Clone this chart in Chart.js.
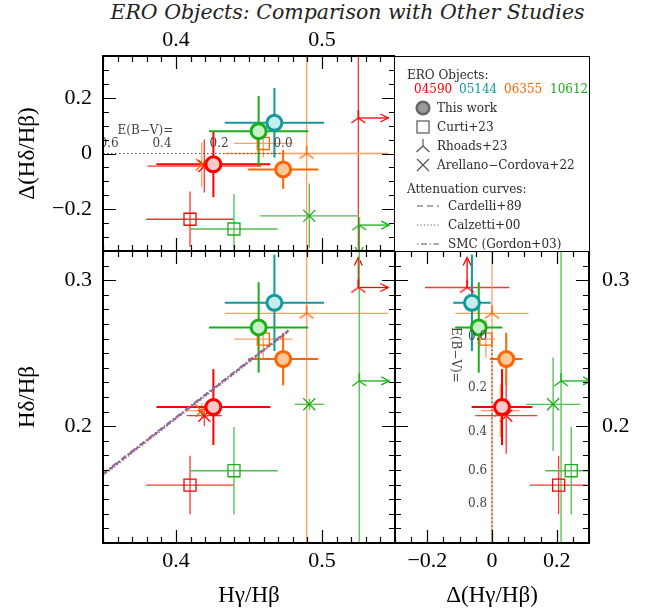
<!DOCTYPE html>
<html>
<head>
<meta charset="utf-8">
<script src="https://cdn.jsdelivr.net/npm/chart.js@4.4.0/dist/chart.umd.min.js"></script>
<style>
  body { margin: 0; background: #fff; width: 662px; height: 614px; position: relative; overflow: hidden; }
  canvas { position: absolute; }
  #title { position: absolute; left: 0; width: 695px; top: 0; text-align: center; font: italic 20.5px "DejaVu Serif", serif; color: #222; }
  #legend { position: absolute; left: 395px; top: 56px; width: 195px; height: 196px; box-sizing: border-box; border: 1.6px solid #000; border-left: 0; border-bottom: 0; }
  #legend .t { position: absolute; font: 12px "DejaVu Serif", serif; line-height: 14px; color: #2a2a2a; white-space: nowrap; }
  #legend svg { position: absolute; }
</style>
</head>
<body>
<div id="title">ERO Objects: Comparison with Other Studies</div>
<canvas id="cA" width="395" height="251" style="left:0;top:0"></canvas>
<canvas id="cB" width="395" height="363" style="left:0;top:251px"></canvas>
<canvas id="cC" width="267" height="363" style="left:395px;top:251px"></canvas>
<div id="legend"></div>
<script>
// objects, in the order used by every array below
const objIds = ['04590', '05144', '06355', '10612'];
const objColors = ['#ff0000', '#12999b', '#ff6400', '#18b018'];
const objFills = ['#ffc9c9', '#c4eded', '#ffc896', '#c8f1c8'];
const otherColors = ['#ff3434', '#12999b', '#ffa062', '#4cc04c'];

// This work
const twHg = [0.4256, 0.4674, 0.4734, 0.4566];
const twHgErr = [0.039, 0.034, 0.024, 0.034];
const twHd = [0.2131, 0.2845, 0.2460, 0.2676];
const twHdErr = [0.026, 0.033, 0.018, 0.031];
const twDHd = [-0.039, 0.110, -0.057, 0.080];
const twDHdErr = [0.118, 0.125, 0.070, 0.126];
const twDHg = [0.031, -0.062, 0.044, -0.041];
const twDHgErr = [0.094, 0.058, 0.050, 0.073];

// Curti+23
const cuHg = [0.4096, null, 0.4598, 0.4397];
const cuHgErr = [0.030, null, 0.020, 0.030];
const cuHd = [0.1597, null, 0.2597, 0.1695];
const cuHdErr = [0.020, null, 0.013, 0.030];
const cuDHd = [-0.236, null, 0.036, -0.271];
const cuDHdErr = [0.100, null, 0.050, 0.125];
const cuDHg = [0.206, null, -0.019, 0.245];
const cuDHgErr = [0.089, null, 0.028, 0.080];

// Rhoads+23  ('lo' = lower limit, 'up' = upper limit)
const rhHg = [0.5249, null, 0.4895, 0.5255];
const rhHgErr = [0, null, 0.056, 0];
const rhHgLim = ['lo', null, null, 'lo'];
const rhHd = [0.2950, null, 0.2773, 0.2310];
const rhHdErr = [0, null, 1, 1];
const rhHdLim = ['lo', null, null, null];
const rhDHd = [0.1275, null, 0.0, -0.257];
const rhDHdErr = [1, null, 1, 0];
const rhDHdLim = [null, null, null, 'up'];
const rhDHg = [-0.077, null, 0.0, 0.2136];
const rhDHgErr = [0.13, null, 0.113, 0];
const rhDHgLim = [null, null, null, 'lo'];

// Arellano-Cordova+22
const acHg = [0.4194, null, 0.4176, 0.4913];
const acHgErrTop = [0.039, null, 0.024, 0.034];
const acHgErr = [0.012, null, 0.010, 0.010];
const acHd = [0.2072, null, 0.2106, 0.2150];
const acHdErr = [0.007, null, 0.005, 0.004];
const acHdErrRight = [0.026, null, 0.018, 0.032];
const acDHd = [-0.045, null, -0.040, -0.224];
const acDHdErr = [0.095, null, 0.080, 0.116];
const acDHg = [0.044, null, 0.026, 0.189];
const acDHgErr = [0.096, null, 0.060, 0.083];

// attenuation curves (Hg/Hb, Hd/Hb)
const curveHg = [0.350, 0.400, 0.440, 0.477];
const cardelliHd = [0.1670, 0.2056, 0.2366, 0.2652];
const calzettiHd = [0.1662, 0.2050, 0.2360, 0.2647];
const smcHd = [0.1676, 0.2062, 0.2372, 0.2657];

// E(B-V) marks
const ebvTopLabels = ['0.6', '0.4', '0.2', '0.0'];
const ebvTopHg = [0.3541, 0.3904, 0.4295, 0.4733];
const ebvRightLabels = ['0.0', '0.2', '0.4', '0.6', '0.8'];
const ebvRightHd = [0.2613, 0.2262, 0.1960, 0.1693, 0.1467];

// axis ticks
const hgTicks = [0.4, 0.5];
const hdTicks = [0.2, 0.3];
const dHdTicks = [-0.2, 0, 0.2];
const dHgTicks = [-0.2, 0, 0.2];

Chart.defaults.font.family = '"Liberation Serif", serif';
Chart.defaults.color = '#000';

function tripod(color) {
  const c = document.createElement('canvas');
  c.width = c.height = 18;
  const g = c.getContext('2d');
  g.strokeStyle = color; g.lineWidth = 1.4;
  g.beginPath();
  g.moveTo(9, 9); g.lineTo(9, 1);
  g.moveTo(9, 9); g.lineTo(2, 14);
  g.moveTo(9, 9); g.lineTo(16, 14);
  g.stroke();
  return c;
}

function pts(xs, ys) {
  return xs.map((v, i) => (v == null ? { x: null, y: null } : { x: v, y: ys[i] }));
}

// one panel's four studies
function studySets(xs, ys) {
  return [
    { label: 'This work', data: pts(xs.tw.v, ys.tw.v), pointStyle: 'circle', pointRadius: 7.5,
      pointBorderWidth: 3, pointBorderColor: objColors, pointBackgroundColor: objFills,
      err: { x: xs.tw.err, y: ys.tw.err, color: objColors, width: 2, z: 2 } },
    { label: 'Curti+23', data: pts(xs.cu.v, ys.cu.v), pointStyle: 'rect', pointRadius: 8.5,
      pointBorderWidth: 1.3, pointBorderColor: objColors, pointBackgroundColor: 'rgba(0,0,0,0)',
      err: { x: xs.cu.err, y: ys.cu.err, color: otherColors, width: 1.3, z: 1 } },
    { label: 'Rhoads+23', data: pts(xs.rh.v, ys.rh.v), pointStyle: objColors.map(tripod), pointRadius: 9,
      err: { x: xs.rh.err, y: ys.rh.err, xLim: xs.rh.lim, yLim: ys.rh.lim, color: otherColors, arrow: objColors, width: 1.3, z: 0 } },
    { label: 'Arellano-Cordova+22', data: pts(xs.ac.v, ys.ac.v), pointStyle: 'crossRot', pointRadius: 8.5,
      pointBorderWidth: 1.3, pointBorderColor: objColors,
      err: { x: xs.ac.err, y: ys.ac.err, color: otherColors, width: 1.3, z: 1 } }
  ];
}

const errorBars = {
  id: 'errorBars',
  beforeDatasetsDraw(chart) {
    const { ctx, chartArea: a, scales: { x, y } } = chart;
    ctx.save();
    ctx.beginPath(); ctx.rect(a.left, a.top, a.right - a.left, a.bottom - a.top); ctx.clip();
    const sets = chart.data.datasets.filter(d => d.err).sort((p, q) => p.err.z - q.err.z);
    const seg = (x1, y1, x2, y2) => { ctx.beginPath(); ctx.moveTo(x1, y1); ctx.lineTo(x2, y2); ctx.stroke(); };
    const arrow = (px, py, dx, dy) => {
      const L = 30, h = 8;
      const ex = px + dx * L, ey = py + dy * L;
      seg(px, py, ex, ey);
      ctx.beginPath();
      ctx.moveTo(ex - dx * h - dy * 4, ey - dy * h - dx * 4);
      ctx.lineTo(ex, ey);
      ctx.lineTo(ex - dx * h + dy * 4, ey - dy * h + dx * 4);
      ctx.stroke();
    };
    sets.forEach(ds => {
      const e = ds.err;
      ds.data.forEach((p, i) => {
        if (p.x == null) return;
        const px = x.getPixelForValue(p.x), py = y.getPixelForValue(p.y);
        ctx.lineWidth = e.width;
        ctx.strokeStyle = e.color[i];
        if (e.x && e.x[i]) seg(x.getPixelForValue(p.x - e.x[i]), py, x.getPixelForValue(p.x + e.x[i]), py);
        if (e.y && e.y[i]) seg(px, y.getPixelForValue(p.y - e.y[i]), px, y.getPixelForValue(p.y + e.y[i]));
        ctx.strokeStyle = e.arrow ? e.arrow[i] : e.color[i];
        if (e.xLim && e.xLim[i] === 'lo') arrow(px, py, 1, 0);
        if (e.xLim && e.xLim[i] === 'up') arrow(px, py, -1, 0);
        if (e.yLim && e.yLim[i] === 'lo') arrow(px, py, 0, -1);
        if (e.yLim && e.yLim[i] === 'up') arrow(px, py, 0, 1);
      });
    });
    ctx.restore();
  }
};

// frame with inward major/minor ticks on all four sides
const frame = {
  id: 'frame',
  afterDraw(chart, args, o) {
    const { ctx, chartArea: a, scales: { x, y } } = chart;
    const vals = (s, step) => {
      const out = [];
      for (let k = Math.ceil(s.min / step - 1e-6); k <= Math.floor(s.max / step + 1e-6); k++) out.push(k * step);
      return out;
    };
    const isMaj = (v, step) => Math.abs(v / step - Math.round(v / step)) < 1e-6;
    ctx.save();
    ctx.strokeStyle = '#000';
    ctx.lineWidth = 1.2;
    vals(x, o.xMinor).forEach(v => {
      const px = Math.round(x.getPixelForValue(v)) + 0.5;
      const L = isMaj(v, o.xMajor) ? 13 : 6;
      ctx.beginPath();
      ctx.moveTo(px, a.bottom); ctx.lineTo(px, a.bottom - L);
      ctx.moveTo(px, a.top); ctx.lineTo(px, a.top + L);
      ctx.stroke();
    });
    vals(y, o.yMinor).forEach(v => {
      const py = Math.round(y.getPixelForValue(v)) + 0.5;
      const L = isMaj(v, o.yMajor) ? 13 : 6;
      ctx.beginPath();
      ctx.moveTo(a.left, py); ctx.lineTo(a.left + L, py);
      ctx.moveTo(a.right, py); ctx.lineTo(a.right - L, py);
      ctx.stroke();
    });
    ctx.lineWidth = 2;
    ctx.strokeRect(a.left, a.top, a.right - a.left, a.bottom - a.top);
    ctx.restore();
  }
};

// E(B-V) labels along the intrinsic line
const ebvMarks = {
  id: 'ebvMarks',
  afterDatasetsDraw(chart, args, o) {
    if (!o.labels) return;
    const { ctx, chartArea: a, scales: { x, y } } = chart;
    ctx.save();
    ctx.beginPath(); ctx.rect(a.left, a.top, a.right - a.left, a.bottom - a.top); ctx.clip();
    ctx.fillStyle = '#444';
    ctx.font = '12px "DejaVu Serif", serif';
    ctx.textBaseline = 'middle';
    if (o.vertical) {
      ctx.textAlign = 'right';
      o.labels.forEach((t, i) => ctx.fillText(t, x.getPixelForValue(o.at), y.getPixelForValue(o.pos[i])));
      ctx.translate(x.getPixelForValue(o.nameAt[0]), y.getPixelForValue(o.nameAt[1]));
      ctx.rotate(Math.PI / 2);
      ctx.textAlign = 'center';
      ctx.fillText('E(B\u2212V)=', 0, 0);
    } else {
      ctx.textAlign = 'center';
      o.labels.forEach((t, i) => ctx.fillText(t, x.getPixelForValue(o.pos[i]), y.getPixelForValue(o.at)));
      ctx.fillText('E(B\u2212V)=', x.getPixelForValue(o.nameAt[0]), y.getPixelForValue(o.nameAt[1]));
    }
    ctx.restore();
  }
};

const fmt = v => (v < 0 ? '\u2212' + Math.abs(v) : String(v));

// fixed axis thickness, and no extra room for labels that hang over the axis ends
function fixSize(prop, size) {
  return s => {
    s[prop] = size;
    s.paddingTop = s.paddingBottom = s.paddingLeft = s.paddingRight = 0;
  };
}

function axis(pos, min, max, ticks, extra) {
  return Object.assign({
    type: 'linear', position: pos, min: min, max: max,
    afterBuildTicks: s => { s.ticks = ticks.map(v => ({ value: v })); },
    ticks: { font: { size: 22 }, color: '#000', callback: fmt, maxRotation: 0, autoSkip: false, padding: 5 },
    grid: { display: false, drawTicks: false },
    border: { display: false }
  }, extra);
}

function curve(label, ys, dash, color) {
  return { type: 'line', label: label, data: pts(curveHg, ys), borderColor: color, borderWidth: 1.8,
    borderDash: dash, pointRadius: 0, showLine: true, fill: false };
}

function baseOptions(scales, framePts, ebv) {
  return {
    responsive: false, animation: false, events: [],
    layout: { padding: 0, autoPadding: false },
    scales: scales,
    plugins: { legend: { display: false }, tooltip: { enabled: false }, frame: framePts, ebvMarks: ebv || {} }
  };
}

// upper-left: Hg/Hb vs Delta(Hd/Hb)
new Chart(document.getElementById('cA'), {
  type: 'scatter',
  data: { datasets: studySets(
    { tw: { v: twHg, err: twHgErr }, cu: { v: cuHg, err: cuHgErr }, rh: { v: rhHg, err: rhHgErr, lim: rhHgLim }, ac: { v: acHg, err: acHgErrTop } },
    { tw: { v: twDHd, err: twDHdErr }, cu: { v: cuDHd, err: cuDHdErr }, rh: { v: rhDHd, err: rhDHdErr, lim: rhDHdLim }, ac: { v: acDHd, err: acDHdErr } }
  ).concat([{ type: 'line', data: [{ x: 0.35, y: 0 }, { x: 0.4733, y: 0 }], borderColor: '#555', borderWidth: 1.2,
    borderDash: [1.5, 2.5], pointRadius: 0 }]) },
  options: baseOptions({
    x: axis('top', 0.35, 0.55, hgTicks, { afterFit: fixSize('height', 56),
      ticks: { font: { size: 22 }, color: '#000', callback: fmt, maxRotation: 0, autoSkip: false, padding: 3 } }),
    y: axis('left', -0.35, 0.35, dHdTicks, { afterFit: fixSize('width', 103),
      ticks: { font: { size: 22 }, color: '#000', callback: fmt, autoSkip: false, padding: 11 },
      title: { display: true, text: '\u0394(H\u03b4/H\u03b2)', font: { size: 23 }, color: '#000', padding: { top: 14 } } })
  }, { xMinor: 0.01, xMajor: 0.1, yMinor: 0.05, yMajor: 0.2 },
  { labels: ebvTopLabels, pos: ebvTopHg, at: 0.036, nameAt: [0.379, 0.083] }),
  plugins: [errorBars, frame, ebvMarks]
});

// lower-left: Hg/Hb vs Hd/Hb
new Chart(document.getElementById('cB'), {
  type: 'scatter',
  data: { datasets: studySets(
    { tw: { v: twHg, err: twHgErr }, cu: { v: cuHg, err: cuHgErr }, rh: { v: rhHg, err: rhHgErr, lim: rhHgLim }, ac: { v: acHg, err: acHgErr } },
    { tw: { v: twHd, err: twHdErr }, cu: { v: cuHd, err: cuHdErr }, rh: { v: rhHd, err: rhHdErr, lim: rhHdLim }, ac: { v: acHd, err: acHdErr } }
  ).concat([
    curve('Cardelli+89', cardelliHd, [5, 3], '#777777'),
    curve('Calzetti+00', calzettiHd, [1.5, 2], '#d05aa8'),
    curve('SMC (Gordon+03)', smcHd, [6, 2, 1.5, 2], '#9a5ab4')
  ]) },
  options: baseOptions({
    x: axis('bottom', 0.35, 0.55, hgTicks, { afterFit: fixSize('height', 71),
      title: { display: true, text: 'H\u03b3/H\u03b2', font: { size: 23 }, color: '#000', padding: { top: 3 } } }),
    y: axis('left', 0.12, 0.32, hdTicks, { afterFit: fixSize('width', 103),
      ticks: { font: { size: 22 }, color: '#000', callback: fmt, autoSkip: false, padding: 11 },
      title: { display: true, text: 'H\u03b4/H\u03b2', font: { size: 23 }, color: '#000', padding: { top: 14 } } })
  }, { xMinor: 0.01, xMajor: 0.1, yMinor: 0.01, yMajor: 0.1 }),
  plugins: [errorBars, frame]
});

// lower-right: Delta(Hg/Hb) vs Hd/Hb
new Chart(document.getElementById('cC'), {
  type: 'scatter',
  data: { datasets: studySets(
    { tw: { v: twDHg, err: twDHgErr }, cu: { v: cuDHg, err: cuDHgErr }, rh: { v: rhDHg, err: rhDHgErr, lim: rhDHgLim }, ac: { v: acDHg, err: acDHgErr } },
    { tw: { v: twHd, err: twHdErr }, cu: { v: cuHd, err: cuHdErr }, rh: { v: rhHd, err: rhHdErr, lim: rhHdLim }, ac: { v: acHd, err: acHdErrRight } }
  ).concat([{ type: 'line', data: [{ x: 0, y: 0.258 }, { x: 0, y: 0.12 }], borderColor: '#555', borderWidth: 1.2,
    borderDash: [1.5, 2.5], pointRadius: 0 }]) },
  options: baseOptions({
    x: axis('bottom', -0.3, 0.3, dHgTicks, { afterFit: fixSize('height', 71),
      title: { display: true, text: '\u0394(H\u03b3/H\u03b2)', font: { size: 23 }, color: '#000', padding: { top: 3 } } }),
    y: axis('right', 0.12, 0.32, hdTicks, { afterFit: fixSize('width', 73),
      ticks: { font: { size: 22 }, color: '#000', callback: fmt, autoSkip: false, padding: 13 } })
  }, { xMinor: 0.05, xMajor: 0.2, yMinor: 0.01, yMajor: 0.1 },
  { vertical: true, labels: ebvRightLabels, pos: ebvRightHd, at: -0.015, nameAt: [-0.114, 0.2488] }),
  plugins: [errorBars, frame, ebvMarks]
});

// legend panel
const ink = '#555';
const svg = (x, y, w, h, body) =>
  `<svg style="left:${x}px;top:${y}px" width="${w}" height="${h}" viewBox="0 0 ${w} ${h}">${body}</svg>`;
const txt = (x, cy, s, color) =>
  `<div class="t" style="left:${x}px;top:${cy - 7}px${color ? ';color:' + color : ''}">${s}</div>`;
const idLeft = [19, 64, 109, 155];
const rowY = [51, 70, 89, 107.5];
let html = txt(12, 18, 'ERO Objects:');
objIds.forEach((id, i) => { html += txt(idLeft[i], 31.5, id, objColors[i]); });
html += svg(20, rowY[0] - 8, 16, 16, `<circle cx="8" cy="8" r="6.3" fill="#999" stroke="#666" stroke-width="2.6"/>`);
html += txt(42, rowY[0], 'This work');
html += svg(20, rowY[1] - 8, 16, 16, `<rect x="2" y="2" width="12" height="12" fill="none" stroke="${ink}" stroke-width="1.2"/>`);
html += txt(42, rowY[1], 'Curti+23');
html += svg(20, rowY[2] - 8, 16, 16, `<path d="M8 8 V1 M8 8 L1.5 14 M8 8 L14.5 14" fill="none" stroke="${ink}" stroke-width="1.2"/>`);
html += txt(42, rowY[2], 'Rhoads+23');
html += svg(20, rowY[3] - 8, 16, 16, `<path d="M2 2 L14 14 M14 2 L2 14" fill="none" stroke="${ink}" stroke-width="1.2"/>`);
html += txt(42, rowY[3], 'Arellano\u2212Cordova+22');
html += txt(12, 132, 'Attenuation curves:');
const dashes = ['6,4', '1.2,2.2', '1.5,2.5,6,2.5'];
const curveNames = ['Cardelli+89', 'Calzetti+00', 'SMC (Gordon+03)'];
[149, 168, 187].forEach((cy, i) => {
  html += svg(22, cy - 3, 22, 6, `<line x1="0" y1="3" x2="22" y2="3" stroke="${ink}" stroke-width="1.1" stroke-dasharray="${dashes[i]}"/>`);
  html += txt(53, cy, curveNames[i]);
});
document.getElementById('legend').innerHTML = html;
</script>
</body>
</html>
